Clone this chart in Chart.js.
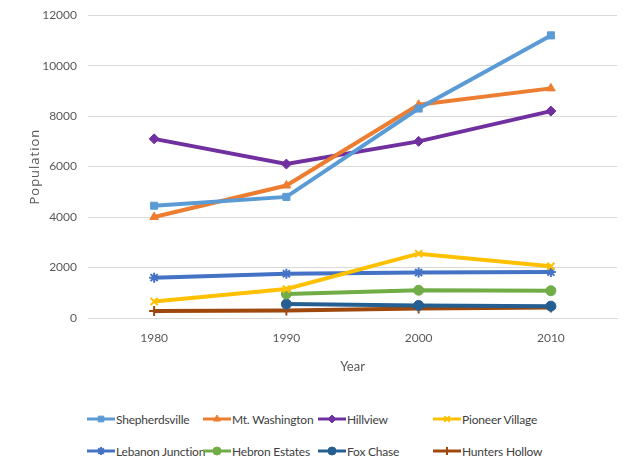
<!DOCTYPE html>
<html>
<head>
<meta charset="utf-8">
<script src="https://cdn.jsdelivr.net/npm/chart.js@4"></script>
<style>
  body { margin: 0; background: #fff; font-family: Lato, "Open Sans", sans-serif; }
  #wrap { position: relative; width: 624px; height: 461px; overflow: hidden; }
  #chartBox { position: absolute; left: 0; top: -3px; width: 624px; height: 393px; }
  #legend { position: absolute; left: 0; top: 0; width: 624px; }
  .item { position: absolute; display: flex; align-items: center; height: 16px; font-size: 12px; color: #404040; white-space: nowrap; letter-spacing: -0.2px; }
  .item canvas { margin-right: 1px; }
</style>
</head>
<body>
<div id="wrap">
  <div id="chartBox"><canvas id="popChart"></canvas></div>
  <div id="legend"></div>
</div>
<script>
var years = ["1980", "1990", "2000", "2010"];

var shepherdsville = [4450, 4800, 8300, 11200];
var mtWashington = [4000, 5250, 8450, 9100];
var hillview = [7100, 6100, 7000, 8200];
var pioneerVillage = [650, 1150, 2550, 2050];
var lebanonJunction = [1600, 1750, 1800, 1820];
var hebronEstates = [null, 950, 1100, 1080];
var foxChase = [null, 550, 500, 470];
var huntersHollow = [280, 300, 380, 420];

var yTicks = [0, 2000, 4000, 6000, 8000, 10000, 12000];

function series(label, data, color, style) {
    return {
        label: label,
        data: data,
        borderColor: color,
        backgroundColor: color,
        borderWidth: 4,
        pointStyle: style,
        pointRadius: 5,
        pointBorderWidth: (style === 'star' || style === 'crossRot' || style === 'cross') ? 2 : 1,
        tension: 0,
        fill: false
    };
}

var datasets = [
    series('Shepherdsville', shepherdsville, '#5B9BD5', 'rect'),
    series('Mt. Washington', mtWashington, '#ED7D31', 'triangle'),
    series('Hillview', hillview, '#7030A0', 'rectRot'),
    series('Pioneer Village', pioneerVillage, '#FFC000', 'crossRot'),
    series('Lebanon Junction', lebanonJunction, '#4472C4', 'star'),
    series('Hebron Estates', hebronEstates, '#70AD47', 'circle'),
    series('Fox Chase', foxChase, '#255E91', 'circle'),
    series('Hunters Hollow', huntersHollow, '#9E480E', 'cross')
];

Chart.defaults.font.family = 'Lato, "Open Sans", sans-serif';
Chart.defaults.font.size = 12;
Chart.defaults.color = '#595959';

// y axis title drawn by hand so it can be letter-spaced
var yTitle = {
    id: 'yTitle',
    afterDraw: function(chart) {
        var c = chart.ctx;
        var area = chart.chartArea;
        c.save();
        c.translate(35, (area.top + area.bottom) / 2);
        c.rotate(-Math.PI / 2);
        c.font = '13px "Open Sans", sans-serif';
        c.letterSpacing = '1px';
        c.fillStyle = '#595959';
        c.textAlign = 'center';
        c.textBaseline = 'middle';
        c.fillText('Population', 0, 0);
        c.restore();
    }
};

var ctx = document.getElementById('popChart').getContext('2d');
var popChart = new Chart(ctx, {
    type: 'line',
    data: { labels: years, datasets: datasets },
    plugins: [yTitle],
    options: {
        responsive: true,
        maintainAspectRatio: false,
        animation: false,
        layout: { padding: { left: 22, right: 4, top: 6, bottom: 11 } },
        plugins: {
            legend: { display: false },
            tooltip: { enabled: false }
        },
        scales: {
            x: {
                offset: true,
                grid: { display: false, drawTicks: false, offset: true },
                border: { display: true, color: '#d9d9d9', width: 1 },
                ticks: { padding: 13, color: '#595959' },
                title: { display: true, text: 'Year', color: '#595959', font: { size: 13 } },
                afterFit: function(scale) { scale.height = 61; }
            },
            y: {
                min: 0,
                max: 12000,
                afterBuildTicks: function(scale) {
                    scale.ticks = yTicks.map(function(v) { return { value: v }; });
                },
                grid: { color: '#d9d9d9', drawTicks: false },
                border: { display: false },
                ticks: {
                    padding: 11,
                    color: '#595959',
                    callback: function(v) { return String(v); }
                },
                afterFit: function(scale) { scale.width = 66; }
            }
        }
    }
});

// legend laid out as a fixed 4-column grid under the chart
var colX = [87, 203, 318, 433];
var rowY = [411, 443];
var legendDiv = document.getElementById('legend');
popChart.data.datasets.forEach(function(ds, i) {
    var item = document.createElement('div');
    item.className = 'item';
    item.style.left = colX[i % 4] + 'px';
    item.style.top = rowY[Math.floor(i / 4)] + 'px';

    var icon = document.createElement('canvas');
    icon.width = 28;
    icon.height = 16;
    var c = icon.getContext('2d');
    c.strokeStyle = ds.borderColor;
    c.lineWidth = 3;
    c.beginPath();
    c.moveTo(0, 8);
    c.lineTo(28, 8);
    c.stroke();
    c.fillStyle = ds.backgroundColor;
    c.lineWidth = ds.pointBorderWidth;
    Chart.helpers.drawPoint(c, { pointStyle: ds.pointStyle, radius: 4, borderWidth: ds.pointBorderWidth }, 14, 8);

    var txt = document.createElement('span');
    txt.textContent = ds.label;
    item.appendChild(icon);
    item.appendChild(txt);
    legendDiv.appendChild(item);
});
</script>
</body>
</html>
